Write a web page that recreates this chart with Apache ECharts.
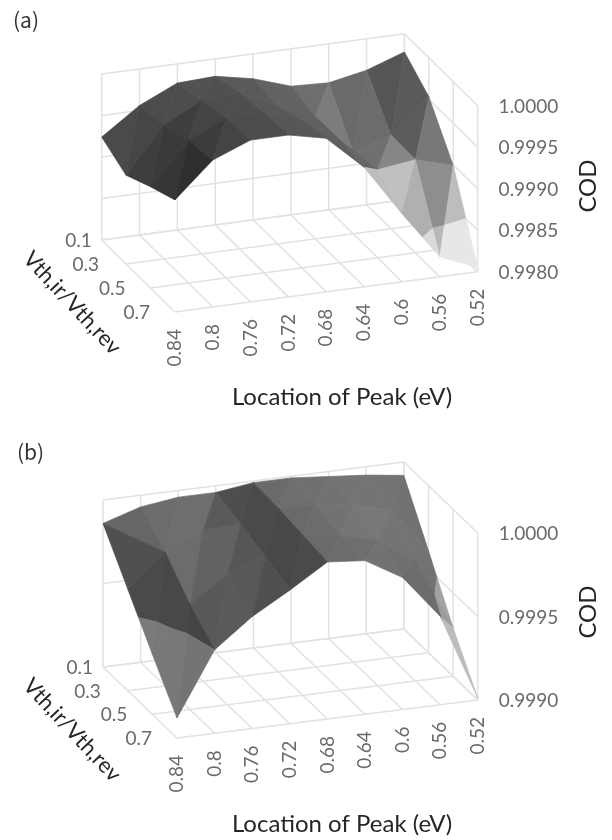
<!DOCTYPE html>
<html><head><meta charset="utf-8">
<style>html,body{margin:0;padding:0;background:#fff}#c{width:612px;height:840px}</style>
<script src="https://cdn.jsdelivr.net/npm/echarts@6/dist/echarts.min.js"></script></head>
<body><div id="c"></div><script>
const locations = ['0.84','0.8','0.76','0.72','0.68','0.64','0.6','0.56','0.52'];
const ratios = ['0.1','0.3','0.5','0.7'];
const codTicksA = ['0.9980','0.9985','0.9990','0.9995','1.0000'];
const codTicksB = ['0.9990','0.9995','1.0000'];
// rows: ratio 0.1..0.7, columns: location 0.84..0.52
const codA01 = [0.99924,0.99956,0.99977,0.99979,0.99970,0.99955,0.99953,0.99962,0.99978];
const codA03 = [0.99907,0.99961,0.99985,0.99988,0.99966,0.99947,0.99898,0.99913,0.99953];
const codA05 = [0.99922,0.99972,0.99992,0.99993,0.99978,0.99948,0.99906,0.99912,0.99899];
const codA07 = [0.99935,0.99977,0.99995,0.99995,0.99985,0.99944,0.99882,0.99824,0.99805];
const codB01 = [0.99986,0.99993,0.99996,0.99996,0.99999,0.99999,0.99997,0.99995,0.99992];
const codB03 = [0.99961,0.99980,0.99990,0.99991,0.99998,0.99997,0.99994,0.99988,0.99961];
const codB05 = [0.99936,0.99963,0.99978,0.99986,0.99996,0.99993,0.99987,0.99972,0.99929];
const codB07 = [0.99912,0.99950,0.99967,0.99980,0.99994,0.99992,0.99979,0.99953,0.99901];
// facet greys (two triangles per cell)
const greyA = [
 [0x4a,0x46,0x4c,0x4c,0x52,0x50,0x5a,0x5a,0x62,0x62,0x6e,0x7c,0x6a,0x6c,0x55,0x5a],
 [0x3e,0x3a,0x3e,0x44,0x4e,0x4e,0x58,0x58,0x60,0x60,0x6a,0x70,0x70,0x86,0x5c,0x78],
 [0x36,0x2f,0x3c,0x44,0x4c,0x4c,0x56,0x56,0x5e,0x5e,0x66,0xbd,0xc0,0xb0,0x8e,0xbd]];
const greyB = [
 [0x66,0x50,0x6c,0x6e,0x6e,0x5a,0x4e,0x4a,0x6a,0x6e,0x70,0x72,0x74,0x74,0x74,0x72],
 [0x4a,0x48,0x6c,0x62,0x62,0x56,0x4a,0x48,0x6a,0x6c,0x72,0x76,0x78,0x74,0x74,0x72],
 [0x48,0x44,0x58,0x5a,0x58,0x50,0x48,0x4a,0x6a,0x6c,0x6e,0x72,0x70,0x6c,0x6a,0x8c]];
const flippedCellsB = ['0,0'];

const panelA = {name:'a',O:[101.7,240],iv:[37.84,-5.04],jv:[24.4,24],H:166,zr:[0.998,1.0],ticks:codTicksA,
  rows:[codA01,codA03,codA05,codA07],grey:greyA,flip:[],level:0.9985,delta:0x2a,top:30,bottom:320,width:376.5};
const panelB = {name:'b',O:[103,667],iv:[37.6,-4.75],jv:[24.67,23.67],H:167,zr:[0.999,1.0],ticks:codTicksB,
  rows:[codB01,codB03,codB05,codB07],grey:greyB,flip:flippedCellsB,level:0.9995,delta:0x30,top:458,bottom:746,width:375.5};
const ratioDx = [-10,-27,-25,-25];
const tickFont = 'Lato', tickColor = '#6a6a6a', tickSize = 19;

function mapper(p){
  const span = p.zr[1]-p.zr[0];
  return (api,i,j,z)=>api.coord([i+j*p.jv[0]/p.iv[0], z-(p.iv[1]*i+p.jv[1]*j)*span/p.H]);
}
function wallData(p){
  const a=[], zt=p.ticks.map(Number), z0=p.zr[0], z1=p.zr[1];
  locations.forEach((_,i)=>{a.push([i,0,z0,i,0,z1]);a.push([i,0,z0,i,3,z0]);});
  ratios.forEach((_,j)=>{a.push([8,j,z0,8,j,z1]);a.push([0,j,z0,8,j,z0]);});
  zt.forEach(z=>{a.push([0,0,z,8,0,z]);a.push([8,0,z,8,3,z]);});
  return a;
}
// split a triangle at the band level; each piece is padded to four vertices
function splitAtLevel(tri,L){
  const up=[],lo=[];
  tri.forEach((a,n)=>{
    const b=tri[(n+1)%3];
    (a[2]>=L?up:lo).push(a);
    if((a[2]>=L)!==(b[2]>=L)){
      const t=(L-a[2])/(b[2]-a[2]);
      const c=[a[0]+t*(b[0]-a[0]),a[1]+t*(b[1]-a[1]),L];
      up.push(c);lo.push(c);
    }
  });
  return [up,lo];
}
function pad(poly){const q=poly.slice();while(q.length<4)q.push(poly[poly.length-1]);return q;}
function triData(p){
  const a=[], R=p.rows;
  const V=(i,j)=>[i,j,R[j][i]];
  const add=(tri,g)=>{
    const [up,lo]=splitAtLevel(tri,p.level);
    if(up.length>2)a.push([...pad(up).flat(),g]);
    if(lo.length>2)a.push([...pad(lo).flat(),Math.min(0xea,g+p.delta)]);
  };
  for(let j=0;j<3;j++) for(let i=7;i>=0;i--){
    const g1=p.grey[j][2*i], g2=p.grey[j][2*i+1];
    if(p.flip.includes(i+','+j)){
      add([V(i,j),V(i+1,j),V(i+1,j+1)],g1);
      add([V(i,j),V(i+1,j+1),V(i,j+1)],g2);
    } else {
      add([V(i,j),V(i+1,j),V(i,j+1)],g1);
      add([V(i+1,j),V(i+1,j+1),V(i,j+1)],g2);
    }
  }
  return a;
}
function seriesFor(p,idx){
  const m = mapper(p), z0=p.zr[0];
  const axes = {type:'custom',coordinateSystem:'cartesian2d',xAxisIndex:idx,yAxisIndex:idx,silent:true,clip:false,animation:false};
  return [
   {...axes,name:'walls '+p.name,z:1,data:wallData(p),
    renderItem:(pr,api)=>{const v=k=>api.value(k);const a=m(api,v(0),v(1),v(2)),b=m(api,v(3),v(4),v(5));
      return {type:'line',shape:{x1:a[0],y1:a[1],x2:b[0],y2:b[1]},style:{stroke:'#e2e2e2',lineWidth:1.5}};}},
   {...axes,name:'COD surface '+p.name,z:2,data:triData(p),
    renderItem:(pr,api)=>{const v=k=>api.value(k);
      const pts=[0,3,6,9].map(n=>m(api,v(n),v(n+1),v(n+2)));
      const g=v(12),c='rgb('+g+','+g+','+g+')';
      return {type:'polygon',shape:{points:pts},style:{fill:c,stroke:c,lineWidth:0.7}};}},
   {...axes,name:'location ticks '+p.name,z:3,data:locations.map((t,i)=>[i,3]),
    renderItem:(pr,api)=>{const i=api.value(0);const a=m(api,i,3,z0);
      return {type:'text',x:a[0],y:a[1]+17,rotation:Math.PI/2,style:{text:locations[i],font:tickSize+'px '+tickFont,fill:tickColor,align:'right',verticalAlign:'middle'}};}},
   {...axes,name:'ratio ticks '+p.name,z:3,data:ratios.map((t,j)=>[0,j]),
    renderItem:(pr,api)=>{const j=api.value(1);const a=m(api,0,j,z0);
      return {type:'text',x:a[0]+ratioDx[j],y:a[1]+1,style:{text:ratios[j],font:tickSize+'px '+tickFont,fill:tickColor,align:'right',verticalAlign:'middle'}};}},
   {...axes,name:'COD ticks '+p.name,z:3,data:p.ticks.map((t,k)=>[8,Number(t)]),
    renderItem:(pr,api)=>{const k=pr.dataIndex;const a=m(api,8,3,api.value(1));
      return {type:'text',x:a[0]+21,y:a[1]+1,style:{text:p.ticks[k],font:tickSize+'px '+tickFont,fill:tickColor,align:'left',verticalAlign:'middle'}};}}
  ];
}
function gridFor(p){return {left:p.O[0],top:p.top,width:p.width,height:p.bottom-p.top};}
function xFor(p,idx){return {type:'value',gridIndex:idx,show:false,min:0,max:p.width/p.iv[0],splitLine:{show:false}};}
function yFor(p,idx){const span=p.zr[1]-p.zr[0],k=span/p.H;
  return {type:'value',gridIndex:idx,show:false,min:p.zr[0]-(p.bottom-p.O[1])*k,max:p.zr[0]+(p.O[1]-p.top)*k,scale:true,splitLine:{show:false}};}
function label(text,x,y,size,rot){
  return {type:'text',x:x,y:y,rotation:rot||0,style:{text:text,font:size+'px Lato',fill:'#262626',align:'center',verticalAlign:'middle'}};
}
const chart = echarts.init(document.getElementById('c'),null,{renderer:'canvas'});
chart.setOption({
  animation:false,backgroundColor:'#fff',
  grid:[gridFor(panelA),gridFor(panelB)],
  xAxis:[xFor(panelA,0),xFor(panelB,1)],
  yAxis:[yFor(panelA,0),yFor(panelB,1)],
  series:[...seriesFor(panelA,0),...seriesFor(panelB,1)],
  graphic:{elements:[
    {type:'text',x:13,y:20,style:{text:'(a)',font:'21px "Noto Sans CJK KR"',fill:'#333',align:'left',verticalAlign:'middle'}},
    {type:'text',x:17,y:452,style:{text:'(b)',font:'21px "Noto Sans CJK KR"',fill:'#333',align:'left',verticalAlign:'middle'}},
    label('Location of Peak (eV)',342,397,24),
    label('Location of Peak (eV)',342,824,24),
    label('COD',588,186,24,Math.PI/2),
    label('COD',588,612,24,Math.PI/2),
    label('Vth,ir/Vth,rev',72,303,22,-47*Math.PI/180),
    label('Vth,ir/Vth,rev',72,730,22,-47*Math.PI/180)
  ]}
});
</script></body></html>
